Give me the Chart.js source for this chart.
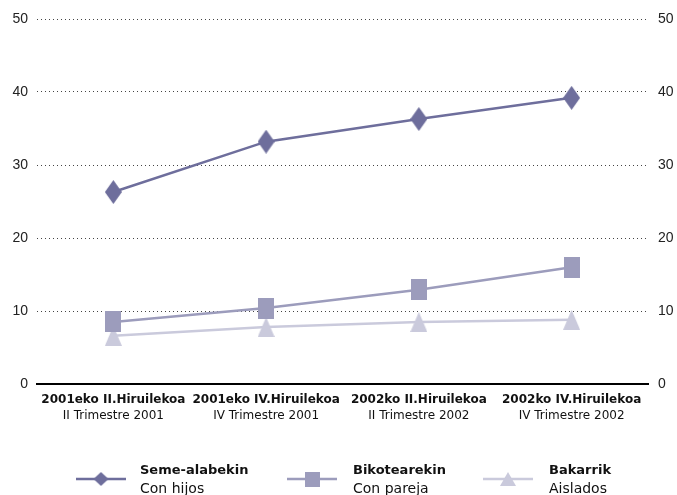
<!DOCTYPE html>
<html>
<head>
<meta charset="utf-8">
<script src="https://cdn.jsdelivr.net/npm/chart.js@4/dist/chart.umd.min.js"></script>
<style>
html,body{margin:0;padding:0;background:#fff;}
#wrap{width:677px;height:495px;}
</style>
</head>
<body>
<div id="wrap"><canvas id="c" width="677" height="495"></canvas></div>
<script>
// ---- data ----
const periodsEu = ["2001eko II.Hiruilekoa", "2001eko IV.Hiruilekoa", "2002ko II.Hiruilekoa", "2002ko IV.Hiruilekoa"];
const periodsEs = ["II Trimestre 2001", "IV Trimestre 2001", "II Trimestre 2002", "IV Trimestre 2002"];
const seriesNamesEu = ["Seme-alabekin", "Bikotearekin", "Bakarrik"];
const seriesNamesEs = ["Con hijos", "Con pareja", "Aislados"];
const conHijos = [26.3, 33.2, 36.3, 39.2];
const conPareja = [8.5, 10.4, 12.9, 16.0];
const aislados = [6.6, 7.8, 8.5, 8.8];
const yTicks = [0, 10, 20, 30, 40, 50];

const colors = ["#6e6e9c", "#9c9cbc", "#cacadc"];

function marker(shape, color, w, h) {
  const c = document.createElement('canvas');
  c.width = w; c.height = h;
  const x = c.getContext('2d');
  x.fillStyle = color;
  x.beginPath();
  if (shape === 'diamond') {
    x.moveTo(w/2, 0); x.lineTo(w, h/2); x.lineTo(w/2, h); x.lineTo(0, h/2);
  } else if (shape === 'square') {
    x.rect(0, 0, w, h);
  } else {
    x.moveTo(w/2, 0); x.lineTo(w, h); x.lineTo(0, h);
  }
  x.closePath(); x.fill();
  return c;
}
const markers = [
  marker('diamond', colors[0], 17, 24),
  marker('square', colors[1], 16, 21),
  marker('triangle', colors[2], 17, 20)
];
const legendMarkers = [
  marker('diamond', colors[0], 15, 14),
  marker('square', colors[1], 15, 15),
  marker('triangle', colors[2], 16, 14)
];

const font = "'Liberation Sans', Arial, sans-serif";
const wideFont = "'DejaVu Sans', sans-serif";

const legendPlugin = {
  id: 'twoLineLegend',
  afterDraw(chart) {
    const ctx = chart.ctx;
    const lineX = [76, 287, 483];
    const textX = [140, 353, 549];
    const cy = 479;
    ctx.save();
    chart.data.datasets.forEach((ds, i) => {
      ctx.strokeStyle = colors[i];
      ctx.lineWidth = 2.5;
      ctx.beginPath();
      ctx.moveTo(lineX[i], cy); ctx.lineTo(lineX[i] + 50, cy);
      ctx.stroke();
      const m = legendMarkers[i];
      ctx.drawImage(m, lineX[i] + 25 - m.width/2, cy - m.height/2);
      ctx.fillStyle = '#111';
      ctx.textAlign = 'left';
      ctx.textBaseline = 'middle';
      ctx.font = "bold 13px " + wideFont;
      ctx.fillText(seriesNamesEu[i], textX[i], 471);
      ctx.font = "14px " + wideFont;
      ctx.fillText(seriesNamesEs[i], textX[i], 489);
    });
    ctx.restore();
  }
};

const dataSets = [conHijos, conPareja, aislados].map((d, i) => ({
  label: seriesNamesEu[i] + " / " + seriesNamesEs[i],
  data: d,
  borderColor: colors[i],
  backgroundColor: colors[i],
  borderWidth: 2.5,
  pointStyle: markers[i],
  pointRadius: 10,
  pointHoverRadius: 10,
  tension: 0,
  order: i
}));

new Chart(document.getElementById('c'), {
  type: 'line',
  data: { labels: periodsEu, datasets: dataSets },
  options: {
    responsive: false,
    animation: false,
    events: [],
    layout: { padding: { top: 19, left: 0, right: 0, bottom: 0 } },
    plugins: { legend: { display: false }, tooltip: { enabled: false } },
    scales: {
      x: {
        type: 'category',
        position: 'bottom',
        offset: true,
        grid: { display: false, drawTicks: false },
        border: { display: true, color: '#000', width: 2 },
        ticks: { color: '#111', font: { family: wideFont, size: 12, weight: 'bold' }, padding: 9, maxRotation: 0, autoSkip: false },
        afterFit(s) { s.height = 22; }
      },
      x2: {
        type: 'category',
        position: 'bottom',
        offset: true,
        labels: periodsEs,
        grid: { display: false, drawTicks: false },
        border: { display: false },
        ticks: { color: '#111', font: { family: wideFont, size: 12 }, padding: 3, maxRotation: 0, autoSkip: false },
        afterFit(s) { s.height = 89; }
      },
      y: {
        position: 'left',
        min: 0, max: 50,
        afterBuildTicks(s) { s.ticks = yTicks.map(v => ({ value: v })); },
        grid: { color: '#444', lineWidth: 1, drawTicks: false },
        border: { display: false, dash: [1, 3] },
        ticks: { color: '#222', font: { family: font, size: 14 }, padding: 9 },
        afterFit(s) { s.width = 37; }
      },
      y2: {
        position: 'right',
        min: 0, max: 50,
        afterBuildTicks(s) { s.ticks = yTicks.map(v => ({ value: v })); },
        grid: { display: false, drawTicks: false },
        border: { display: false },
        ticks: { color: '#222', font: { family: font, size: 14 }, padding: 10 },
        afterFit(s) { s.width = 29; }
      }
    }
  },
  plugins: [legendPlugin]
});
</script>
</body>
</html>
